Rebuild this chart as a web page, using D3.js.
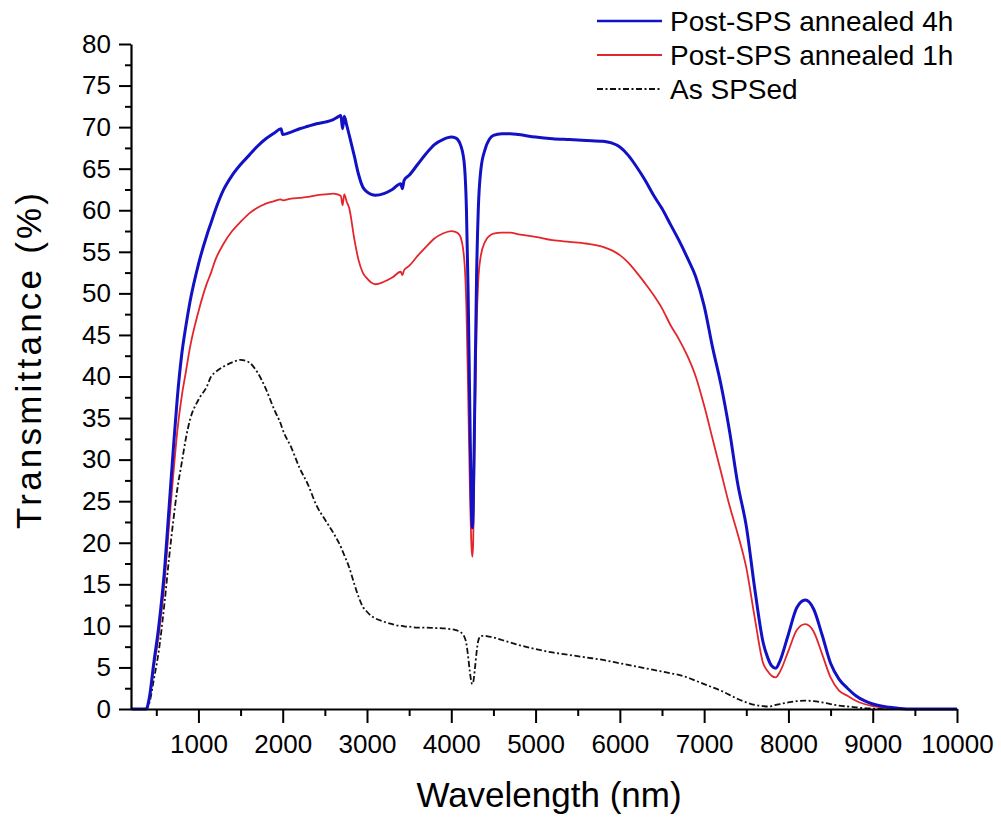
<!DOCTYPE html>
<html>
<head>
<meta charset="utf-8">
<script src="https://cdn.jsdelivr.net/npm/d3@7"></script>
<style>
  html, body { margin: 0; padding: 0; background: #fff; }
  svg text { font-family: "Liberation Sans", Arial, sans-serif; fill: #000; }
</style>
</head>
<body>
<svg id="chart" width="1001" height="818"></svg>
<script>
// ---- data ----
const wavelength = [200, 380, 420, 470, 530, 600, 650, 700, 750, 800, 850, 900, 1000, 1100, 1150, 1200, 1300, 1400, 1500, 1600, 1700, 1800, 1900, 1980, 2000, 2100, 2200, 2300, 2400, 2500, 2600, 2650, 2690, 2710, 2730, 2760, 2790, 2850, 2900, 2950, 3000, 3050, 3100, 3200, 3300, 3400, 3420, 3440, 3500, 3600, 3700, 3800, 3900, 4000, 4050, 4100, 4150, 4180, 4200, 4220, 4240, 4250, 4260, 4280, 4300, 4320, 4350, 4400, 4450, 4500, 4600, 4700, 4800, 5000, 5200, 5400, 5600, 5800, 5900, 6000, 6100, 6200, 6300, 6400, 6500, 6600, 6700, 6800, 6900, 7000, 7100, 7200, 7300, 7400, 7500, 7600, 7700, 7750, 7800, 7850, 7900, 8000, 8100, 8200, 8300, 8400, 8500, 8600, 8700, 8800, 8900, 9000, 9100, 9200, 9300, 9400, 10000];

const annealed4h = [0, 0, 1.5, 5.5, 10, 17, 24, 31, 37.5, 42.5, 46, 49, 53.5, 57, 58.5, 60, 62.5, 64.2, 65.5, 66.6, 67.7, 68.6, 69.3, 69.8, 69.1, 69.4, 69.8, 70.1, 70.4, 70.6, 70.9, 71.2, 71.4, 69.8, 71.3, 70.2, 69, 66.5, 64.3, 62.8, 62.2, 61.9, 61.8, 62, 62.5, 63.2, 62.6, 63.6, 64.2, 65.5, 66.8, 67.9, 68.5, 68.8, 68.7, 68.1, 66, 60, 50, 36, 23.5, 21.8, 24, 38, 52, 60, 64.8, 67.3, 68.5, 69, 69.2, 69.2, 69.1, 68.8, 68.6, 68.5, 68.4, 68.3, 68.1, 67.6, 66.6, 65.2, 63.6, 61.8, 60.2, 58.3, 56.4, 54.3, 52, 48.5, 43.5, 39, 33.5, 27, 22, 14.5, 8, 6.3, 5.2, 4.9, 5.8, 9.0, 12.2, 13.1, 12, 8.9, 5.5, 3.6, 2.5, 1.6, 1.0, 0.6, 0.35, 0.2, 0.08, 0, 0];

const annealed1h = [0, 0, 1.2, 5, 9, 15.5, 22, 28, 33.5, 37.5, 40.5, 43.5, 47.8, 51.2, 52.5, 54, 56, 57.5, 58.6, 59.6, 60.3, 60.8, 61.1, 61.3, 61.2, 61.4, 61.5, 61.6, 61.8, 61.9, 62, 61.9, 61.7, 60.6, 61.9, 61, 60.2, 56.5, 54, 52.5, 51.8, 51.3, 51.1, 51.4, 51.9, 52.6, 52.2, 52.8, 53.3, 54.5, 55.6, 56.6, 57.2, 57.5, 57.4, 57, 54.5, 48, 38, 27, 19.5, 18.3, 20, 34, 46, 51.5, 54.5, 56.2, 56.9, 57.2, 57.3, 57.3, 57.1, 56.8, 56.4, 56.2, 56, 55.6, 55.2, 54.6, 53.7, 52.5, 51.2, 49.8, 48.2, 46.2, 44.5, 42.5, 40, 36.5, 32.5, 28.5, 24.5, 21, 17, 11, 5.5, 4.6, 4.0, 3.8, 4.5, 7.0, 9.5, 10.2, 9.3, 6.6, 3.8, 2.2, 1.6, 1.0, 0.6, 0.35, 0.2, 0.1, 0.04, 0, 0];

const asSPSed = [0, 0, 0.8, 3.5, 7, 13, 18, 22.5, 26.5, 29.5, 32.5, 34.8, 37.2, 38.8, 40, 40.5, 41.2, 41.7, 42, 41.7, 40.5, 38.5, 36, 34.2, 33.6, 31.5, 29, 27, 24.5, 22.8, 21.2, 20.3, 19.5, 19, 18.5, 17.8, 17, 15, 13.5, 12.3, 11.7, 11.2, 10.9, 10.5, 10.2, 10, 10, 9.95, 9.9, 9.8, 9.8, 9.75, 9.7, 9.6, 9.5, 9.3, 8.8, 7.8, 6.3, 4.5, 3.2, 3.0, 3.2, 4.8, 6.8, 8.2, 8.8, 8.8, 8.7, 8.6, 8.3, 8.0, 7.7, 7.2, 6.8, 6.5, 6.2, 5.9, 5.7, 5.5, 5.3, 5.1, 4.9, 4.7, 4.5, 4.3, 4.1, 3.8, 3.4, 3.0, 2.6, 2.2, 1.7, 1.2, 0.8, 0.5, 0.35, 0.3, 0.35, 0.5, 0.6, 0.8, 0.95, 1.0, 0.95, 0.8, 0.6, 0.4, 0.3, 0.2, 0.1, 0.05, 0, 0, 0, 0, 0];

const seriesNames = ["Post-SPS annealed 4h", "Post-SPS annealed 1h", "As SPSed"];
const xTickValues = [1000, 2000, 3000, 4000, 5000, 6000, 7000, 8000, 9000, 10000];
const yTickValues = [0, 5, 10, 15, 20, 25, 30, 35, 40, 45, 50, 55, 60, 65, 70, 75, 80];
const xTitle = "Wavelength (nm)";
const yTitle = "Transmittance (%)";

(function () {
// ---- layout ----
const pLeft = 131, pRight = 957, pTop = 44, pBottom = 709;
const svg = d3.select("#chart");

const x = d3.scaleLinear().domain([200, 10000]).range([pLeft, pRight]);
const y = d3.scaleLinear().domain([0, 80]).range([pBottom, pTop]);

const series = [
  { name: seriesNames[2], values: asSPSed, color: "#111", width: 1.8, dash: "6,2.5,2,2.5" },
  { name: seriesNames[1], values: annealed1h, color: "#e3262b", width: 1.8, dash: null },
  { name: seriesNames[0], values: annealed4h, color: "#1212c4", width: 3, dash: null }
];

const line = d3.line().x(d => x(d[0])).y(d => y(d[1])).curve(d3.curveMonotoneX);

series.forEach(s => {
  svg.append("path")
    .datum(wavelength.map((w, i) => [w, s.values[i]]))
    .attr("fill", "none")
    .attr("stroke", s.color)
    .attr("stroke-width", s.width)
    .attr("stroke-linejoin", "round")
    .attr("stroke-dasharray", s.dash)
    .attr("d", line);
});

// ---- axes ----
function styleAxis(g) {
  g.selectAll("path.domain").attr("stroke", "#000").attr("stroke-width", 2.2);
  g.selectAll(".tick line").attr("stroke", "#000").attr("stroke-width", 2);
  g.selectAll(".tick text").style("font-size", "26px").attr("fill", "#000");
}

const xMinor = svg.append("g").attr("transform", `translate(0,${pBottom})`)
  .call(d3.axisBottom(x).tickValues(d3.range(500, 10000, 1000)).tickSize(7).tickFormat("").tickSizeOuter(0));
xMinor.select("path.domain").remove();
styleAxis(xMinor);

const yMinor = svg.append("g").attr("transform", `translate(${pLeft},0)`)
  .call(d3.axisLeft(y).tickValues(d3.range(2.5, 80, 5)).tickSize(6).tickFormat("").tickSizeOuter(0));
yMinor.select("path.domain").remove();
styleAxis(yMinor);

const xAxis = svg.append("g").attr("transform", `translate(0,${pBottom})`)
  .call(d3.axisBottom(x).tickValues(xTickValues).tickSize(14).tickPadding(12).tickSizeOuter(0).tickFormat(d3.format("d")));
styleAxis(xAxis);

const yAxis = svg.append("g").attr("transform", `translate(${pLeft},0)`)
  .call(d3.axisLeft(y).tickValues(yTickValues).tickSize(12).tickPadding(8).tickSizeOuter(0).tickFormat(d3.format("d")));
styleAxis(yAxis);

// ---- titles ----
svg.append("text")
  .attr("x", (415 + 683) / 2).attr("y", 807)
  .attr("text-anchor", "middle")
  .style("font-size", "35px")
  .text(xTitle);

svg.append("text")
  .attr("transform", "translate(41,361) rotate(-90)")
  .attr("text-anchor", "middle")
  .attr("textLength", 336)
  .attr("lengthAdjust", "spacing")
  .style("font-size", "35px")
  .text(yTitle);

// ---- legend ----
const legendItems = [series[2], series[1], series[0]];
const leg = svg.append("g");
legendItems.forEach((s, i) => {
  const ly = 21 + i * 34;
  leg.append("line")
    .attr("x1", 597).attr("x2", 662).attr("y1", ly).attr("y2", ly)
    .attr("stroke", s.color).attr("stroke-width", s.width === 3 ? 2.6 : 2)
    .attr("stroke-dasharray", s.dash);
  leg.append("text")
    .attr("x", 670).attr("y", ly + 10)
    .style("font-size", "28px")
    .text(s.name);
});
})();
</script>
</body>
</html>
